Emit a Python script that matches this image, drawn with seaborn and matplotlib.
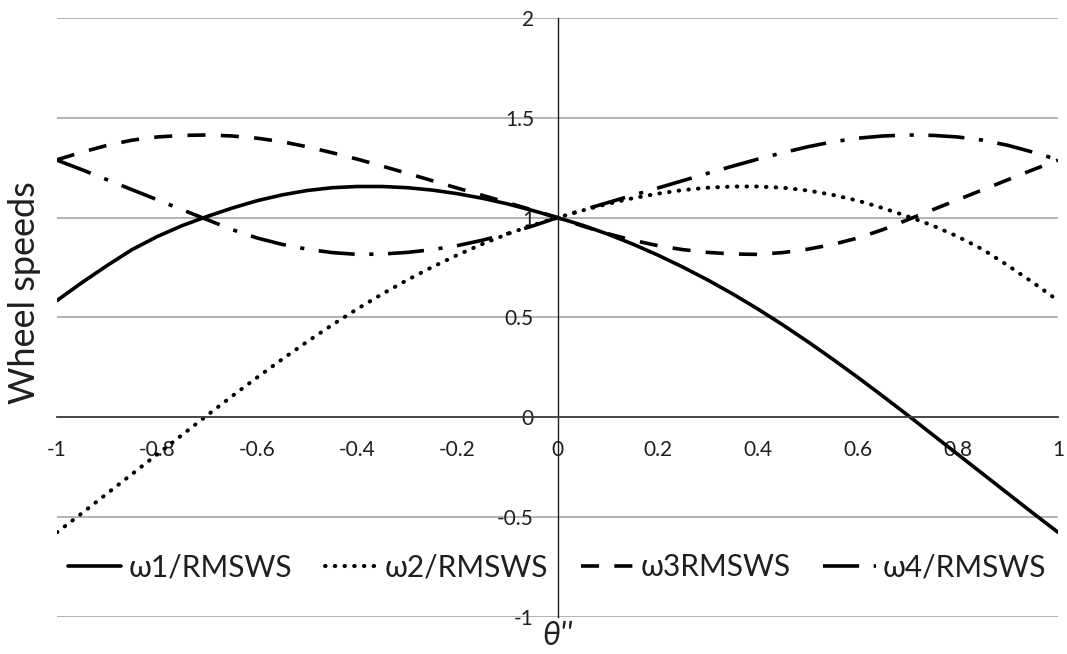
import numpy as np
import pandas as pd
import matplotlib
matplotlib.use("Agg")
import matplotlib.pyplot as plt
import seaborn as sns

# ---- data ----
theta = [-1.00, -0.95, -0.90, -0.85, -0.80, -0.75, -0.70, -0.65, -0.60, -0.55,
         -0.50, -0.45, -0.40, -0.35, -0.30, -0.25, -0.20, -0.15, -0.10, -0.05,
         0.00, 0.05, 0.10, 0.15, 0.20, 0.25, 0.30, 0.35, 0.40, 0.45,
         0.50, 0.55, 0.60, 0.65, 0.70, 0.75, 0.80, 0.85, 0.90, 0.95, 1.00]

w1 = [0.585, 0.675, 0.760, 0.840, 0.905, 0.960, 1.006, 1.048, 1.085, 1.114,
      1.136, 1.150, 1.156, 1.156, 1.150, 1.138, 1.120, 1.097, 1.069, 1.036,
      1.000, 0.962, 0.918, 0.868, 0.813, 0.753, 0.688, 0.618, 0.543, 0.463,
      0.379, 0.291, 0.200, 0.106, 0.010, -0.088, -0.186, -0.284, -0.382, -0.480, -0.576]

w2 = [-0.576, -0.480, -0.382, -0.284, -0.186, -0.088, 0.010, 0.106, 0.200, 0.291,
      0.379, 0.463, 0.543, 0.618, 0.688, 0.753, 0.813, 0.868, 0.918, 0.962,
      1.000, 1.036, 1.069, 1.097, 1.120, 1.138, 1.150, 1.156, 1.156, 1.150,
      1.136, 1.114, 1.085, 1.048, 1.006, 0.960, 0.905, 0.840, 0.760, 0.675, 0.585]

w3 = [1.290, 1.328, 1.362, 1.388, 1.404, 1.412, 1.414, 1.409, 1.398, 1.380,
      1.355, 1.325, 1.293, 1.258, 1.222, 1.185, 1.148, 1.112, 1.075, 1.038,
      1.000, 0.958, 0.920, 0.887, 0.860, 0.840, 0.826, 0.818, 0.816, 0.825,
      0.842, 0.866, 0.898, 0.940, 0.990, 1.040, 1.090, 1.140, 1.190, 1.240, 1.288]

w4 = [1.288, 1.240, 1.190, 1.140, 1.090, 1.040, 0.990, 0.940, 0.898, 0.866,
      0.842, 0.825, 0.816, 0.818, 0.826, 0.840, 0.860, 0.887, 0.920, 0.958,
      1.000, 1.038, 1.075, 1.112, 1.148, 1.185, 1.222, 1.258, 1.293, 1.325,
      1.355, 1.380, 1.398, 1.409, 1.414, 1.412, 1.404, 1.388, 1.362, 1.328, 1.290]

series_labels = ["ω1/RMSWS", "ω2/RMSWS", "ω3RMSWS", "ω4/RMSWS"]
x_ticks = [-1, -0.8, -0.6, -0.4, -0.2, 0, 0.2, 0.4, 0.6, 0.8, 1]
x_tick_labels = ["-1", "-0.8", "-0.6", "-0.4", "-0.2", "0", "0.2", "0.4", "0.6", "0.8", "1"]
y_ticks = [-1, -0.5, 0, 0.5, 1, 1.5, 2]
y_tick_labels = ["-1", "-0.5", "0", "0.5", "1", "1.5", "2"]
x_label = "θ''"
y_label = "Wheel speeds"

# ---- styling ----
sns.set_theme(style="white")
plt.rcParams["font.family"] = ["Lato", "DejaVu Sans"]
plt.rcParams["lines.scale_dashes"] = False

text_color = "#1f1f1f"
fig = plt.figure(figsize=(10.67, 6.54), dpi=100)
ax = fig.add_axes([0.0534, 0.0566, 0.9382, 0.9159])

df = pd.DataFrame({"theta": theta, "w1": w1, "w2": w2, "w3": w3, "w4": w4})

styles = [
    dict(linestyle="-", linewidth=2.6),
    dict(linestyle=(0, (0.4, 6.6)), linewidth=2.9, dash_capstyle="round"),
    dict(linestyle=(0, (13, 11)), linewidth=2.6, dash_capstyle="butt"),
    dict(linestyle=(0, (26, 10.5, 3, 10.5)), linewidth=2.6, dash_capstyle="butt"),
]
for col, lab, st in zip(["w1", "w2", "w3", "w4"], series_labels, styles):
    sns.lineplot(data=df, x="theta", y=col, ax=ax, color="black",
                 label=lab, sort=False, **st)

ax.set_xlim(-1, 1)
ax.set_ylim(-1, 2)

ax.set_xticks(x_ticks)
ax.set_xticklabels(x_tick_labels)
ax.set_yticks(y_ticks)
ax.set_yticklabels(y_tick_labels)

for s in ["top", "right"]:
    ax.spines[s].set_visible(False)
ax.spines["left"].set_position(("data", 0))
ax.spines["bottom"].set_position(("data", 0))
ax.spines["left"].set_color("#1a1a1a")
ax.spines["left"].set_linewidth(1.0)
ax.spines["bottom"].set_color("#404040")
ax.spines["bottom"].set_linewidth(1.3)

ax.yaxis.grid(True, color="#a6a6a6", linewidth=1.2)
ax.xaxis.grid(False)
ax.set_axisbelow(True)

ax.tick_params(axis="both", length=0, labelsize=15, labelcolor=text_color)
ax.tick_params(axis="x", pad=16)
ax.tick_params(axis="y", pad=17)

ax.set_xlabel("")
ax.set_ylabel("")
fig.text(0.0234, 0.553, y_label, rotation=90, ha="center", va="center",
         fontsize=26, color=text_color)
fig.text(0.522, 0.028, x_label, ha="center", va="center", fontsize=23,
         style="italic", color=text_color)

leg = ax.legend(loc="center", bbox_to_anchor=(0.5, 0.083), ncol=4,
                frameon=False, fontsize=21.5, handlelength=1.75,
                handletextpad=0.25, columnspacing=1.1, labelcolor=text_color)

fig.savefig("out.png", dpi=100)
